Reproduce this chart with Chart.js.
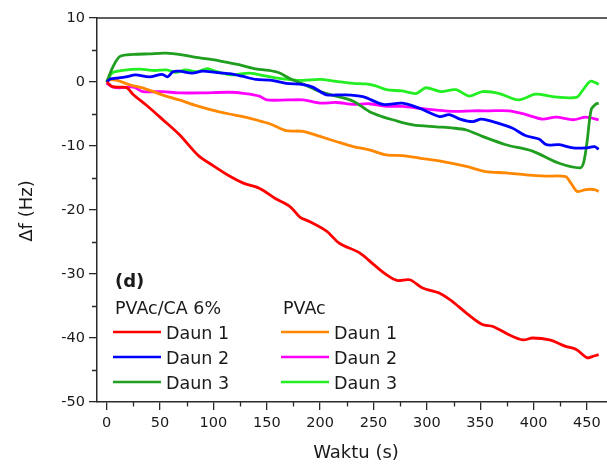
<!DOCTYPE html>
<html>
<head>
<meta charset="utf-8">
<script src="https://cdn.jsdelivr.net/npm/chart.js@4.4.1/dist/chart.umd.min.js"></script>
<style>
html,body{margin:0;padding:0;background:#fff;}
canvas{display:block;}
</style>
</head>
<body>
<canvas id="chart" width="607" height="466"></canvas>
<script>
// PVAc/CA 6% - Daun 1
const tRed = [0, 5, 13, 19, 25, 37, 52, 68, 86, 100, 115, 128, 143, 158, 172, 181, 190, 206, 218, 237, 250, 262, 272, 284, 296, 312, 324, 337, 352, 362, 377, 390, 399, 415, 430, 440, 450, 455, 461];
const yRed = [0, -0.7, -0.8, -0.9, -2.0, -3.6, -5.8, -8.2, -11.5, -13.1, -14.7, -15.8, -16.6, -18.2, -19.5, -21.1, -21.8, -23.3, -25.2, -26.7, -28.5, -30.1, -31.0, -30.9, -32.2, -33.0, -34.3, -36.1, -37.9, -38.2, -39.5, -40.3, -40.0, -40.3, -41.3, -41.8, -43.1, -42.9, -42.6];
// PVAc/CA 6% - Daun 2
const tBlue = [0, 4, 9, 18, 27, 40, 52, 57, 62, 68, 80, 90, 102, 115, 127, 140, 153, 168, 184, 193, 206, 221, 240, 259, 277, 293, 312, 321, 331, 343, 351, 368, 380, 393, 405, 412, 424, 437, 449, 457, 461];
const yBlue = [0, 0.5, 0.6, 0.8, 1.1, 0.8, 1.2, 0.8, 1.6, 1.7, 1.4, 1.7, 1.5, 1.3, 0.9, 0.4, 0.3, -0.2, -0.4, -0.8, -2.0, -2.0, -2.3, -3.5, -3.3, -4.1, -5.4, -5.1, -5.8, -6.2, -5.8, -6.5, -7.2, -8.4, -8.9, -9.8, -9.8, -10.3, -10.3, -10.1, -10.5];
// PVAc/CA 6% - Daun 3
const tDkGreen = [0, 6, 12.5, 25, 40, 56, 72, 86, 99, 112, 124, 138, 152, 162, 171, 185, 200, 215, 231, 246, 258, 268, 287, 309, 325, 337, 352, 374, 399, 424, 444, 447, 450, 454, 458, 461];
const yDkGreen = [0, 2.4, 4.0, 4.3, 4.4, 4.5, 4.2, 3.8, 3.5, 3.1, 2.7, 2.1, 1.8, 1.4, 0.6, -0.4, -1.5, -2.2, -3.0, -4.6, -5.4, -5.9, -6.7, -7.0, -7.2, -7.5, -8.5, -9.8, -10.8, -12.7, -13.4, -12.5, -9.5, -4.3, -3.5, -3.3];
// PVAc - Daun 1
const tOrange = [0, 9, 21, 37, 52, 68, 84, 99, 115, 130, 146, 154, 168, 184, 200, 215, 231, 246, 262, 277, 293, 314, 337, 355, 374, 393, 412, 430, 435, 441, 449, 457, 461];
const yOrange = [0.4, 0.3, -0.4, -1.1, -2.0, -2.8, -3.7, -4.4, -5.0, -5.5, -6.2, -6.6, -7.6, -7.7, -8.5, -9.3, -10.1, -10.6, -11.4, -11.5, -11.9, -12.4, -13.2, -14.0, -14.2, -14.5, -14.7, -14.8, -15.8, -17.1, -16.8, -16.8, -17.1];
// PVAc - Daun 2
const tMagenta = [0, 6, 12, 25, 34, 52, 68, 90, 115, 130, 143, 150, 170, 184, 200, 215, 231, 246, 262, 277, 293, 309, 327, 343, 358, 377, 393, 408, 421, 437, 449, 461];
const yMagenta = [-0.2, -0.8, -0.9, -0.8, -1.5, -1.5, -1.7, -1.7, -1.6, -1.8, -2.2, -2.8, -2.8, -2.8, -3.3, -3.2, -3.5, -3.4, -3.8, -3.8, -4.1, -4.4, -4.6, -4.5, -4.5, -4.5, -5.1, -5.8, -5.5, -5.9, -5.5, -5.9];
// PVAc - Daun 3
const tGreen = [0, 5, 15, 31, 45, 56, 65, 74, 85, 94, 100, 108, 118, 134, 150, 160, 170, 184, 200, 215, 231, 243, 252, 262, 277, 290, 299, 313, 327, 340, 352, 368, 386, 402, 418, 440, 446, 453, 458, 461];
const yGreen = [0, 1.4, 1.8, 2.0, 1.8, 1.9, 1.5, 1.9, 1.6, 2.1, 1.8, 1.4, 1.1, 1.4, 0.9, 0.6, 0.4, 0.25, 0.4, 0.1, -0.2, -0.3, -0.6, -1.2, -1.4, -1.8, -0.9, -1.5, -1.2, -2.2, -1.5, -1.8, -2.8, -1.9, -2.3, -2.4, -1.3, 0.1, -0.1, -0.4];

const seriesNames = ['Daun 1', 'Daun 2', 'Daun 3'];
const groupNames = ['PVAc/CA 6%', 'PVAc'];
const panelLabel = '(d)';
const xTitle = 'Waktu (s)';
const yTitle = '\u0394f (Hz)';
const yMinorTicks = [-45, -35, -25, -15, -5, 5];
const xMinorTicks = [25, 75, 125, 175, 225, 275, 325, 375, 425];

const FONT = '"DejaVu Sans", sans-serif';
const TXT = '#1a1a1a';
const AXIS = '#2a2a2a';

function pts(t, y){ return t.map((v,i)=>({x:v, y:y[i]})); }
function ds(label, t, y, color){
    return {label, data:pts(t,y), borderColor:color, backgroundColor:color, borderWidth:2.8, pointRadius:0, tension:0.3, fill:false};
}

const datasets = [
    ds('PVAc/CA 6% Daun 1', tRed, yRed, '#ff0000'),
    ds('PVAc/CA 6% Daun 2', tBlue, yBlue, '#0000ff'),
    ds('PVAc/CA 6% Daun 3', tDkGreen, yDkGreen, '#1f9e1f'),
    ds('PVAc Daun 1', tOrange, yOrange, '#ff8800'),
    ds('PVAc Daun 2', tMagenta, yMagenta, '#ff00ff'),
    ds('PVAc Daun 3', tGreen, yGreen, '#22ee22')
];

const extras = {
    id:'extras',
    afterDraw(chart){
        const {ctx, chartArea:a, scales:{x, y}} = chart;
        ctx.save();
        ctx.strokeStyle = AXIS;
        ctx.lineWidth = 1.5;
        ctx.beginPath(); ctx.moveTo(a.left - 0.75, a.top); ctx.lineTo(a.right, a.top); ctx.stroke();
        // minor ticks
        ctx.lineWidth = 1.3;
        ctx.beginPath();
        yMinorTicks.forEach(v=>{ const p = Math.round(y.getPixelForValue(v)) + 0.5; ctx.moveTo(a.left - 5, p); ctx.lineTo(a.left, p); });
        xMinorTicks.forEach(v=>{ const p = Math.round(x.getPixelForValue(v)) + 0.5; ctx.moveTo(p, a.bottom); ctx.lineTo(p, a.bottom + 4.5); });
        ctx.stroke();
        // axis titles
        ctx.fillStyle = TXT;
        ctx.font = '18px ' + FONT;
        ctx.textAlign = 'center';
        ctx.textBaseline = 'alphabetic';
        ctx.fillText(xTitle, 356, 458);
        ctx.save();
        ctx.translate(32, 211);
        ctx.rotate(-Math.PI/2);
        ctx.fillText(yTitle, 0, 0);
        ctx.restore();
        // legend
        ctx.textAlign = 'left';
        ctx.font = 'bold 18px ' + FONT;
        ctx.fillText(panelLabel, 115, 287);
        ctx.font = '17.5px ' + FONT;
        const cols = [113, 281];
        groupNames.forEach((g, gi)=>{
            ctx.fillText(g, cols[gi] + 2, 313.5);
            seriesNames.forEach((s, si)=>{
                const rowY = 332 + si * 25;
                const col = chart.data.datasets[gi*3 + si].borderColor;
                ctx.strokeStyle = col;
                ctx.lineWidth = 2.5;
                ctx.beginPath(); ctx.moveTo(cols[gi], rowY); ctx.lineTo(cols[gi] + 48, rowY); ctx.stroke();
                ctx.fillText(s, cols[gi] + 53, rowY + 6.5);
            });
        });
        ctx.restore();
    }
};

new Chart(document.getElementById('chart'), {
    type:'line',
    data:{datasets},
    options:{
        responsive:false,
        animation:false,
        devicePixelRatio:1,
        layout:{padding:{left:0, right:0, top:18, bottom:0}},
        plugins:{legend:{display:false}, tooltip:{enabled:false}},
        scales:{
            x:{
                type:'linear', min:-9.07, max:468.8,
                afterFit(s){ s.height = 64; },
                ticks:{stepSize:50, includeBounds:false, autoSkip:false, maxRotation:0, padding:5, color:TXT, font:{family:FONT, size:14.5}},
                grid:{drawOnChartArea:false, tickLength:8, color:AXIS, lineWidth:1.3},
                border:{color:AXIS, width:1.5}
            },
            y:{
                min:-50, max:10,
                afterFit(s){ s.width = 97; },
                ticks:{stepSize:10, includeBounds:false, padding:4, color:TXT, font:{family:FONT, size:14.5}},
                grid:{drawOnChartArea:false, tickLength:8, color:AXIS, lineWidth:1.3},
                border:{color:AXIS, width:1.5}
            }
        }
    },
    plugins:[extras]
});
</script>
</body>
</html>
